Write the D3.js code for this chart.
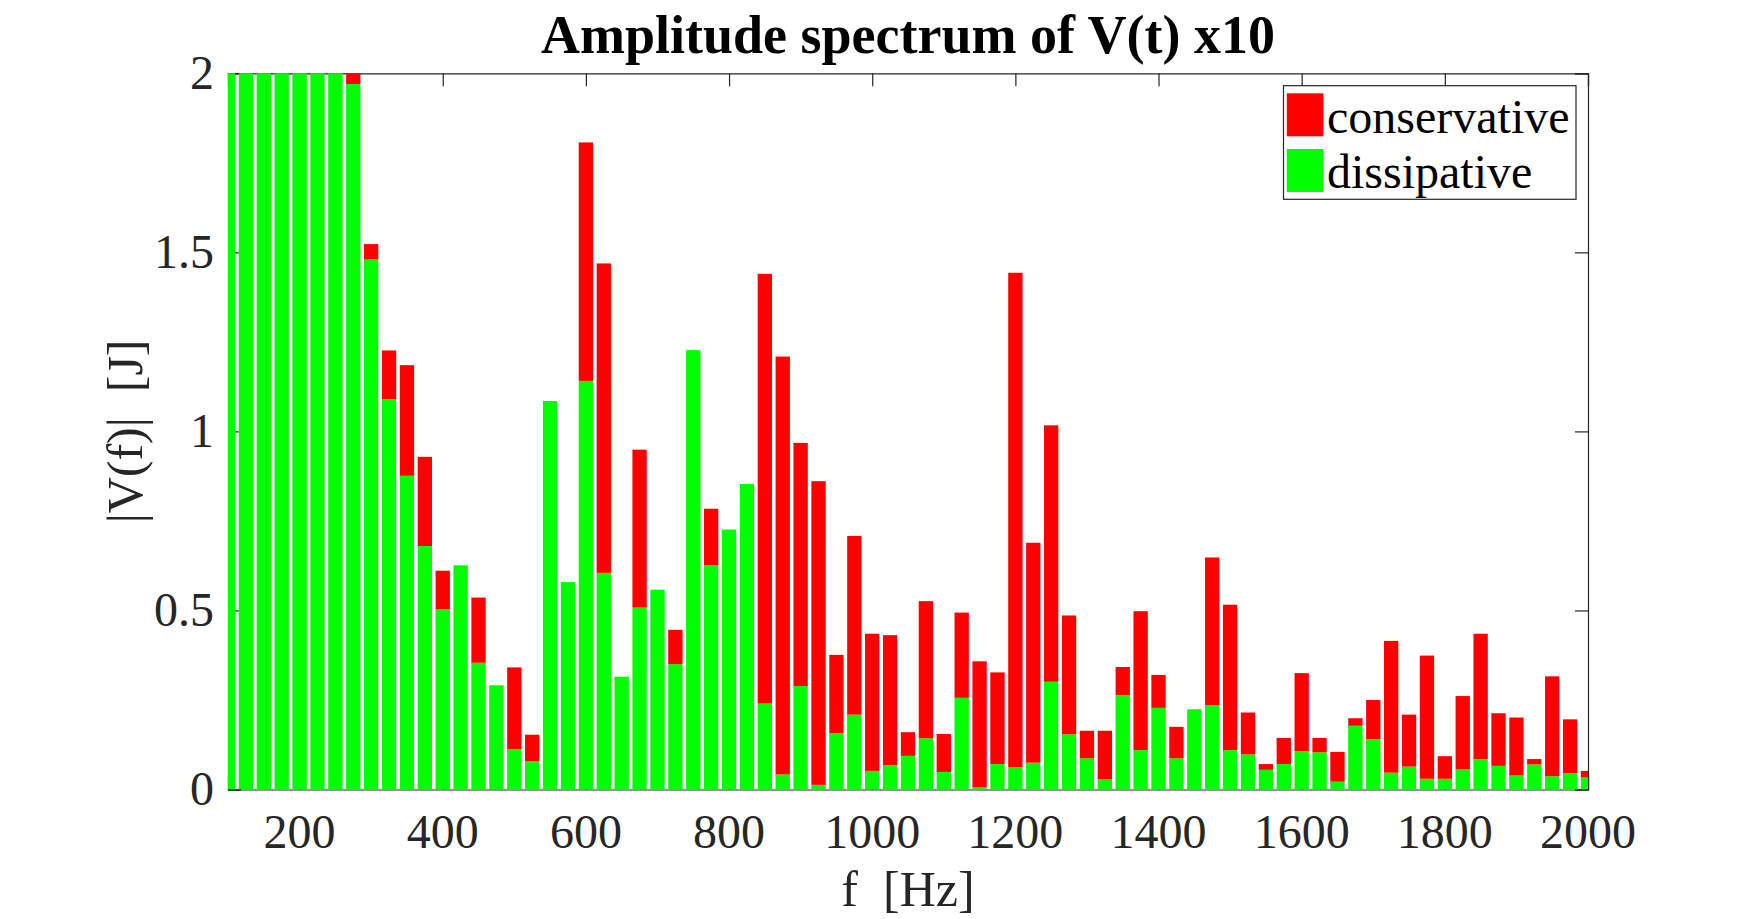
<!DOCTYPE html>
<html>
<head>
<meta charset="utf-8">
<script src="https://cdn.jsdelivr.net/npm/d3@7"></script>
<style>
  body { margin: 0; background: #fff; }
  text { font-family: "Liberation Serif", "Times New Roman", serif; }
</style>
</head>
<body>
<svg id="svgSpectrum" width="1755" height="919"></svg>
<script>
// frequency bins [Hz]
var freqs = [100, 125, 150, 175, 200, 225, 250, 275, 300, 325, 350, 375, 400, 425, 450, 475,
  500, 525, 550, 575, 600, 625, 650, 675, 700, 725, 750, 775, 800, 825, 850, 875,
  900, 925, 950, 975, 1000, 1025, 1050, 1075, 1100, 1125, 1150, 1175, 1200, 1225, 1250, 1275,
  1300, 1325, 1350, 1375, 1400, 1425, 1450, 1475, 1500, 1525, 1550, 1575, 1600, 1625, 1650, 1675,
  1700, 1725, 1750, 1775, 1800, 1825, 1850, 1875, 1900, 1925, 1950, 1975, 2000];

// dissipative part (bottom, green)
var dissipative = [6.5, 5.2, 4.3, 3.6, 3.0, 2.6, 2.3, 1.97, 1.48, 1.09, 0.876, 0.68, 0.503, 0.626, 0.354, 0.291,
  0.113, 0.079, 1.085, 0.579, 1.141, 0.605, 0.315, 0.508, 0.558, 0.35, 1.227, 0.626, 0.726, 0.853, 0.24, 0.042,
  0.289, 0.013, 0.157, 0.209, 0.052, 0.068, 0.094, 0.143, 0.049, 0.256, 0.006, 0.071, 0.062, 0.075, 0.301, 0.154,
  0.087, 0.028, 0.264, 0.11, 0.228, 0.087, 0.224, 0.235, 0.11, 0.098, 0.055, 0.071, 0.107, 0.104, 0.022, 0.178,
  0.141, 0.047, 0.064, 0.03, 0.03, 0.056, 0.085, 0.066, 0.039, 0.07, 0.037, 0.046, 0.034];

// conservative part (stacked on top, red)
var conservative = [0.2, 0.2, 0.2, 0.2, 0.2, 0.2, 0.2, 0.18, 0.043, 0.136, 0.309, 0.249, 0.108, 0, 0.182, 0,
  0.228, 0.074, 0, 0, 0.666, 0.864, 0, 0.441, 0, 0.096, 0, 0.158, 0, 0, 1.2, 1.167,
  0.679, 0.848, 0.219, 0.499, 0.383, 0.363, 0.066, 0.383, 0.106, 0.238, 0.352, 0.256, 1.381, 0.614, 0.716, 0.332,
  0.077, 0.136, 0.078, 0.388, 0.092, 0.088, 0, 0.413, 0.406, 0.117, 0.016, 0.073, 0.218, 0.04, 0.083, 0.021,
  0.109, 0.368, 0.145, 0.344, 0.063, 0.205, 0.35, 0.147, 0.162, 0.015, 0.279, 0.15, 0.018];

var xTicks = [200, 400, 600, 800, 1000, 1200, 1400, 1600, 1800, 2000];
var yTicks = [0, 0.5, 1, 1.5, 2];
var yTickLabels = ["0", "0.5", "1", "1.5", "2"];
var seriesNames = ["dissipative", "conservative"];
var seriesColors = {"dissipative": "#00ff00", "conservative": "#ff0000"};

var margin = {top: 73.3, right: 167, bottom: 129.5, left: 228};
var width = 1755 - margin.left - margin.right;
var height = 919 - margin.top - margin.bottom;
var axisColor = "#262626";
var tickLen = 13;

var svg = d3.select("#svgSpectrum");
var g = svg.append("g")
  .attr("transform", "translate(" + margin.left + "," + margin.top + ")");

var x = d3.scaleLinear().domain([100, 2000]).range([0, width]);
var y = d3.scaleLinear().domain([0, 2]).range([height, 0]);

var rows = freqs.map(function(f, i) {
  return {f: f, dissipative: dissipative[i], conservative: conservative[i]};
});
var stacked = d3.stack().keys(seriesNames)(rows);

svg.append("defs").append("clipPath").attr("id", "plotClip")
  .append("rect").attr("x", 0).attr("y", 0).attr("width", width).attr("height", height);

// ticks on all four sides, pointing inwards
var axBottom = g.append("g").attr("transform", "translate(0," + height + ")")
  .call(d3.axisBottom(x).tickValues(xTicks).tickSize(-tickLen).tickFormat(""));
var axTop = g.append("g")
  .call(d3.axisTop(x).tickValues(xTicks).tickSize(-tickLen).tickFormat(""));
var axLeft = g.append("g")
  .call(d3.axisLeft(y).tickValues(yTicks).tickSize(-tickLen).tickFormat(""));
var axRight = g.append("g").attr("transform", "translate(" + width + ",0)")
  .call(d3.axisRight(y).tickValues(yTicks).tickSize(-tickLen).tickFormat(""));
[axBottom, axTop, axLeft, axRight].forEach(function(a) {
  a.select(".domain").attr("stroke", axisColor).attr("stroke-width", 1.2);
  a.selectAll(".tick line").attr("stroke", axisColor).attr("stroke-width", 1.2);
});

// bars
var barW = x(120) - x(100);
g.append("g").attr("clip-path", "url(#plotClip)")
  .selectAll("g.series")
  .data(stacked)
  .enter().append("g")
  .attr("class", "series")
  .attr("fill", function(d) { return seriesColors[d.key]; })
  .selectAll("rect")
  .data(function(d) { return d; })
  .enter().append("rect")
  .attr("x", function(d) { return x(d.data.f) - barW / 2; })
  .attr("width", barW)
  .attr("y", function(d) { return y(d[1]); })
  .attr("height", function(d) { return Math.max(0, y(d[0]) - y(d[1])); });

// tick labels
g.selectAll("text.xlab")
  .data(xTicks)
  .enter().append("text")
  .attr("class", "xlab")
  .attr("x", function(d) { return x(d); })
  .attr("y", height + 58.5)
  .attr("text-anchor", "middle")
  .attr("font-size", "48px")
  .attr("fill", axisColor)
  .text(function(d) { return d; });

g.selectAll("text.ylab")
  .data(yTicks)
  .enter().append("text")
  .attr("class", "ylab")
  .attr("x", -14)
  .attr("y", function(d) { return y(d); })
  .attr("dy", "0.33em")
  .attr("text-anchor", "end")
  .attr("font-size", "48px")
  .attr("fill", axisColor)
  .text(function(d, i) { return yTickLabels[i]; });

// axis titles
svg.append("text")
  .attr("x", margin.left + width / 2)
  .attr("y", 906)
  .attr("text-anchor", "middle")
  .attr("font-size", "50px")
  .attr("fill", axisColor)
  .style("white-space", "pre")
  .text("f  [Hz]");

svg.append("text")
  .attr("transform", "translate(142," + (margin.top + height / 2) + ") rotate(-90)")
  .attr("text-anchor", "middle")
  .attr("font-size", "50px")
  .attr("fill", axisColor)
  .style("white-space", "pre")
  .text("|V(f)|  [J]");

svg.append("text")
  .attr("x", margin.left + width / 2)
  .attr("y", 53)
  .attr("text-anchor", "middle")
  .attr("font-size", "54px")
  .attr("font-weight", "bold")
  .attr("fill", "#000")
  .text("Amplitude spectrum of V(t) x10");

// legend
var legend = svg.append("g").attr("transform", "translate(1283.5,85.7)");
legend.append("rect")
  .attr("width", 292.5).attr("height", 113.6)
  .attr("fill", "#fff").attr("stroke", axisColor).attr("stroke-width", 1.2);
var legendItems = ["conservative", "dissipative"];
legendItems.forEach(function(name, i) {
  legend.append("rect")
    .attr("x", 3.3).attr("y", 7.6 + i * 55.7)
    .attr("width", 36.6).attr("height", 43)
    .attr("fill", seriesColors[name]);
  legend.append("text")
    .attr("x", 43.5).attr("y", 47.5 + i * 55)
    .attr("font-size", "48px")
    .attr("fill", "#000")
    .text(name);
});
</script>
</body>
</html>
